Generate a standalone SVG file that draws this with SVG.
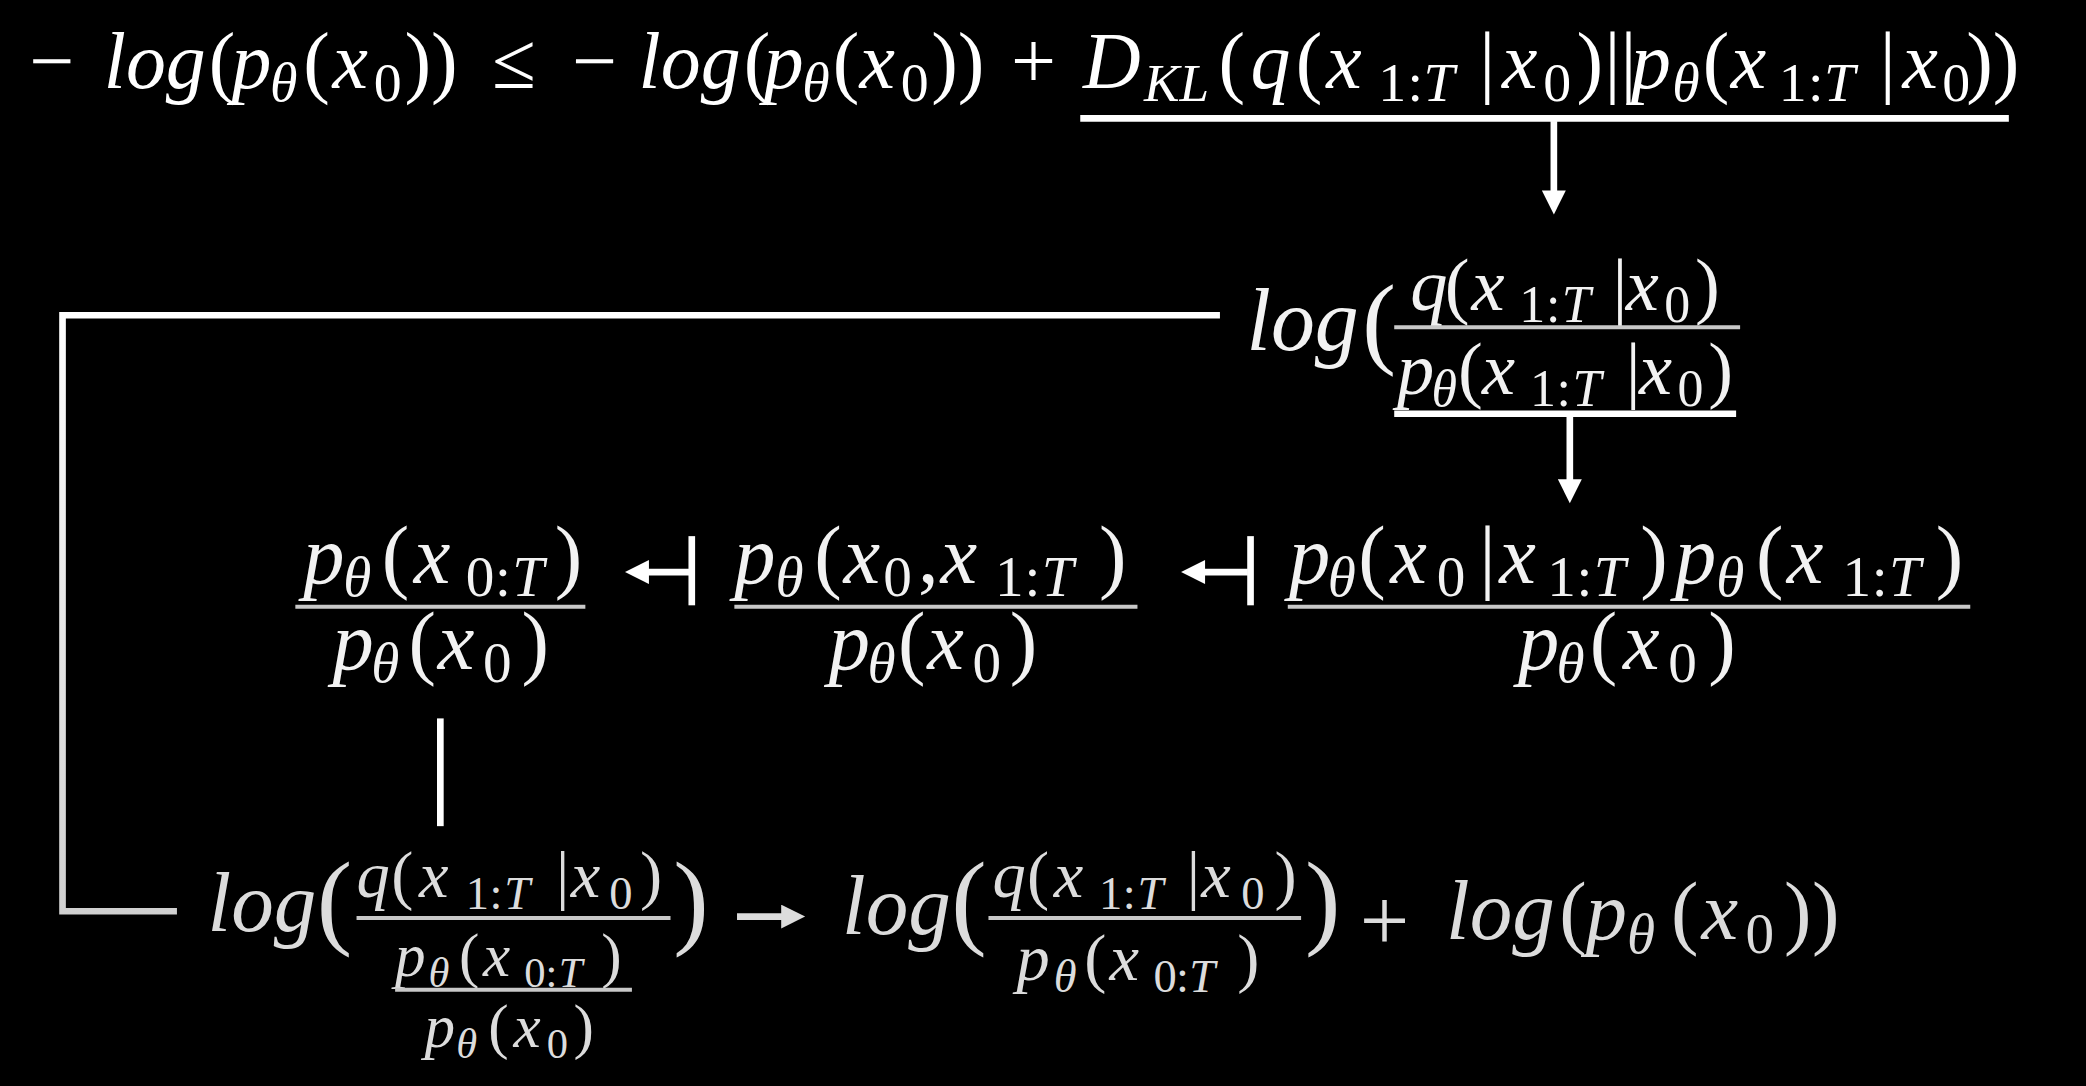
<svg xmlns="http://www.w3.org/2000/svg" width="2086" height="1086" viewBox="0 0 2086 1086">
<style>
text{font-family:'Liberation Serif','DejaVu Serif',serif;font-style:italic}
.u{font-style:normal}
.w{fill:#ffffff}
.l{fill:#f2f2f2}
.g{fill:#dcdcdc}
.bar{stroke:#c8c8c8;stroke-width:3}
.c{stroke:#ffffff;stroke-width:5;fill:none}
.cg{stroke:#dcdcdc;stroke-width:5;fill:none}
</style>
<defs>
<marker id="ah" viewBox="0 0 10 10" refX="1" refY="5" markerUnits="userSpaceOnUse" markerWidth="22" markerHeight="18" orient="auto"><path d="M0,0 L10,5 L0,10 z" fill="#ffffff"/></marker>
<marker id="ahg" viewBox="0 0 10 10" refX="1" refY="5" markerUnits="userSpaceOnUse" markerWidth="22" markerHeight="18" orient="auto"><path d="M0,0 L10,5 L0,10 z" fill="#dcdcdc"/></marker>
<linearGradient id="fade" gradientUnits="userSpaceOnUse" x1="0" y1="237" x2="0" y2="685"><stop offset="0" stop-color="#ffffff"/><stop offset="1" stop-color="#d0d0d0"/></linearGradient>
</defs>
<rect x="0" y="0" width="2086" height="1086" fill="#000000"/>
<g transform="scale(1.33036)">
<g id="connectors">
<line class="c" x1="812" y1="89" x2="1510" y2="89"/>
<line class="c" x1="1168" y1="91" x2="1168" y2="145" marker-end="url(#ah)"/>
<line class="c" x1="1048" y1="311" x2="1305" y2="311"/>
<line class="c" x1="1180" y1="313" x2="1180" y2="362" marker-end="url(#ah)"/>
<path d="M917,237 H47 V685 H133" fill="none" stroke="url(#fade)" stroke-width="5"/>
<line class="c" x1="520" y1="403" x2="520" y2="455"/>
<line class="c" x1="518" y1="430" x2="486" y2="430" marker-end="url(#ah)"/>
<line class="c" x1="940" y1="403" x2="940" y2="455"/>
<line class="c" x1="938" y1="430" x2="904" y2="430" marker-end="url(#ah)"/>
<line class="c" x1="331" y1="540" x2="331" y2="621"/>
<line class="cg" x1="554" y1="689" x2="589" y2="689" marker-end="url(#ahg)"/>
</g>
<g id="n-bound">
<text class="w" font-size="60"><tspan class="u" x="22" y="66">−</tspan><tspan x="78" y="66">log</tspan><tspan class="u" x="157" y="66">(</tspan><tspan x="174" y="66">p</tspan><tspan x="203" y="76" font-size="42">θ</tspan><tspan class="u" x="228" y="66">(</tspan><tspan x="250" y="66">x</tspan><tspan class="u" x="281" y="76" font-size="42">0</tspan><tspan class="u" x="304" y="66">))</tspan><tspan class="u" x="370" y="66">≤</tspan><tspan class="u" x="430" y="66">−</tspan><tspan x="480" y="66">log</tspan><tspan class="u" x="559" y="66">(</tspan><tspan x="574" y="66">p</tspan><tspan x="603" y="76" font-size="42">θ</tspan><tspan class="u" x="626" y="66">(</tspan><tspan x="646" y="66">x</tspan><tspan class="u" x="677" y="76" font-size="42">0</tspan><tspan class="u" x="700" y="66">))</tspan><tspan class="u" x="760" y="66">+</tspan><tspan x="814" y="66">D</tspan><tspan x="860" y="76" font-size="40">KL</tspan><tspan class="u" x="916" y="66">(</tspan><tspan x="940" y="66">q</tspan><tspan class="u" x="974" y="66">(</tspan><tspan x="997" y="66">x</tspan><tspan class="u" x="1036" y="76" font-size="42">1</tspan><tspan class="u" x="1058" y="76" font-size="42">:</tspan><tspan x="1070" y="76" font-size="42">T</tspan><tspan class="u" x="1112" y="66">|</tspan><tspan x="1129" y="66">x</tspan><tspan class="u" x="1160" y="76" font-size="42">0</tspan><tspan class="u" x="1185" y="66">)</tspan><tspan class="u" x="1206" y="66">||</tspan><tspan x="1226" y="66">p</tspan><tspan x="1257" y="76" font-size="42">θ</tspan><tspan class="u" x="1280" y="66">(</tspan><tspan x="1301" y="66">x</tspan><tspan class="u" x="1337" y="76" font-size="42">1</tspan><tspan class="u" x="1359" y="76" font-size="42">:</tspan><tspan x="1371" y="76" font-size="42">T</tspan><tspan class="u" x="1413" y="66">|</tspan><tspan x="1430" y="66">x</tspan><tspan class="u" x="1460" y="76" font-size="42">0</tspan><tspan class="u" x="1478" y="66">))</tspan></text>
</g>
<g id="n-log-ratio">
<text class="l" font-size="56"><tspan x="937" y="263" font-size="66">log</tspan><tspan class="u" x="1024" y="267" font-size="76">(</tspan><tspan x="1060" y="233">q</tspan><tspan class="u" x="1086" y="233">(</tspan><tspan x="1106" y="233">x</tspan><tspan class="u" x="1142" y="242" font-size="39">1</tspan><tspan class="u" x="1162" y="242" font-size="39">:</tspan><tspan x="1174" y="242" font-size="39">T</tspan><tspan class="u" x="1212" y="233">|</tspan><tspan x="1222" y="233">x</tspan><tspan class="u" x="1251" y="242" font-size="39">0</tspan><tspan class="u" x="1274" y="233">)</tspan><tspan x="1050" y="296">p</tspan><tspan x="1076" y="305" font-size="39">θ</tspan><tspan class="u" x="1096" y="296">(</tspan><tspan x="1114" y="296">x</tspan><tspan class="u" x="1150" y="305" font-size="39">1</tspan><tspan class="u" x="1170" y="305" font-size="39">:</tspan><tspan x="1182" y="305" font-size="39">T</tspan><tspan class="u" x="1222" y="296">|</tspan><tspan x="1232" y="296">x</tspan><tspan class="u" x="1261" y="305" font-size="39">0</tspan><tspan class="u" x="1284" y="296">)</tspan></text>
<line class="bar" x1="1048" y1="246" x2="1308" y2="246"/>
</g>
<g id="n-frac-a">
<text class="l" font-size="62"><tspan x="228" y="438">p</tspan><tspan x="258" y="448" font-size="43">θ</tspan><tspan class="u" x="287" y="438">(</tspan><tspan x="311" y="438">x</tspan><tspan class="u" x="350" y="448" font-size="43">0</tspan><tspan class="u" x="372" y="448" font-size="43">:</tspan><tspan x="385" y="448" font-size="43">T</tspan><tspan class="u" x="417" y="438">)</tspan><tspan x="250" y="503">p</tspan><tspan x="279" y="513" font-size="43">θ</tspan><tspan class="u" x="307" y="503">(</tspan><tspan x="329" y="503">x</tspan><tspan class="u" x="363" y="513" font-size="43">0</tspan><tspan class="u" x="392" y="503">)</tspan></text>
<line class="bar" x1="222" y1="456" x2="440" y2="456"/>
</g>
<g id="n-frac-b">
<text class="l" font-size="62"><tspan x="552" y="438">p</tspan><tspan x="583" y="448" font-size="43">θ</tspan><tspan class="u" x="612" y="438">(</tspan><tspan x="634" y="438">x</tspan><tspan class="u" x="664" y="448" font-size="43">0</tspan><tspan class="u" x="690" y="438">,</tspan><tspan x="707" y="438">x</tspan><tspan class="u" x="748" y="448" font-size="43">1</tspan><tspan class="u" x="770" y="448" font-size="43">:</tspan><tspan x="783" y="448" font-size="43">T</tspan><tspan class="u" x="826" y="438">)</tspan><tspan x="623" y="503">p</tspan><tspan x="652" y="513" font-size="43">θ</tspan><tspan class="u" x="675" y="503">(</tspan><tspan x="697" y="503">x</tspan><tspan class="u" x="731" y="513" font-size="43">0</tspan><tspan class="u" x="759" y="503">)</tspan></text>
<line class="bar" x1="552" y1="456" x2="855" y2="456"/>
</g>
<g id="n-frac-c">
<text class="l" font-size="62"><tspan x="969" y="438">p</tspan><tspan x="998" y="448" font-size="43">θ</tspan><tspan class="u" x="1021" y="438">(</tspan><tspan x="1045" y="438">x</tspan><tspan class="u" x="1080" y="448" font-size="43">0</tspan><tspan class="u" x="1112" y="438">|</tspan><tspan x="1127" y="438">x</tspan><tspan class="u" x="1163" y="448" font-size="43">1</tspan><tspan class="u" x="1185" y="448" font-size="43">:</tspan><tspan x="1198" y="448" font-size="43">T</tspan><tspan class="u" x="1233" y="438">)</tspan><tspan x="1259" y="438">p</tspan><tspan x="1290" y="448" font-size="43">θ</tspan><tspan class="u" x="1320" y="438">(</tspan><tspan x="1343" y="438">x</tspan><tspan class="u" x="1385" y="448" font-size="43">1</tspan><tspan class="u" x="1407" y="448" font-size="43">:</tspan><tspan x="1420" y="448" font-size="43">T</tspan><tspan class="u" x="1455" y="438">)</tspan><tspan x="1141" y="503">p</tspan><tspan x="1170" y="513" font-size="43">θ</tspan><tspan class="u" x="1195" y="503">(</tspan><tspan x="1220" y="503">x</tspan><tspan class="u" x="1254" y="513" font-size="43">0</tspan><tspan class="u" x="1284" y="503">)</tspan></text>
<line class="bar" x1="968" y1="456" x2="1481" y2="456"/>
</g>
<g id="n-log-nested">
<text class="g" font-size="50"><tspan x="156" y="700" font-size="64">log</tspan><tspan class="u" x="238" y="703" font-size="80">(</tspan><tspan x="268" y="674">q</tspan><tspan class="u" x="294" y="674">(</tspan><tspan x="315" y="674">x</tspan><tspan class="u" x="350" y="683" font-size="35">1</tspan><tspan class="u" x="368" y="683" font-size="35">:</tspan><tspan x="379" y="683" font-size="35">T</tspan><tspan class="u" x="418" y="674">|</tspan><tspan x="429" y="674">x</tspan><tspan class="u" x="458" y="683" font-size="35">0</tspan><tspan class="u" x="481" y="674">)</tspan><tspan x="297" y="734" font-size="46">p</tspan><tspan x="322" y="742" font-size="32">θ</tspan><tspan class="u" x="345" y="734" font-size="46">(</tspan><tspan x="363" y="734" font-size="46">x</tspan><tspan class="u" x="394" y="742" font-size="32">0</tspan><tspan class="u" x="410" y="742" font-size="32">:</tspan><tspan x="420" y="742" font-size="32">T</tspan><tspan class="u" x="452" y="734" font-size="46">)</tspan><tspan x="319" y="787" font-size="46">p</tspan><tspan x="343" y="795" font-size="32">θ</tspan><tspan class="u" x="367" y="787" font-size="46">(</tspan><tspan x="386" y="787" font-size="46">x</tspan><tspan class="u" x="411" y="795" font-size="32">0</tspan><tspan class="u" x="431" y="787" font-size="46">)</tspan><tspan class="u" x="506" y="703" font-size="80">)</tspan></text>
<line class="bar" x1="268" y1="690" x2="504" y2="690"/>
<line class="bar" x1="297" y1="744" x2="475" y2="744"/>
</g>
<g id="n-log-split">
<text class="g" font-size="50"><tspan x="633" y="702" font-size="64">log</tspan><tspan class="u" x="715" y="703" font-size="80">(</tspan><tspan x="746" y="674">q</tspan><tspan class="u" x="772" y="674">(</tspan><tspan x="792" y="674">x</tspan><tspan class="u" x="826" y="683" font-size="35">1</tspan><tspan class="u" x="844" y="683" font-size="35">:</tspan><tspan x="855" y="683" font-size="35">T</tspan><tspan class="u" x="892" y="674">|</tspan><tspan x="903" y="674">x</tspan><tspan class="u" x="933" y="683" font-size="35">0</tspan><tspan class="u" x="958" y="674">)</tspan><tspan x="764" y="737">p</tspan><tspan x="792" y="746" font-size="35">θ</tspan><tspan class="u" x="815" y="737">(</tspan><tspan x="834" y="737">x</tspan><tspan class="u" x="867" y="746" font-size="35">0</tspan><tspan class="u" x="884" y="746" font-size="35">:</tspan><tspan x="894" y="746" font-size="35">T</tspan><tspan class="u" x="930" y="737">)</tspan><tspan class="u" x="981" y="703" font-size="80">)</tspan><tspan class="u" x="1022" y="714" font-size="66">+</tspan><tspan x="1087" y="706" font-size="64">log</tspan><tspan class="u" x="1172" y="706" font-size="62">(</tspan><tspan x="1192" y="706" font-size="62">p</tspan><tspan x="1223" y="716" font-size="43">θ</tspan><tspan class="u" x="1256" y="706" font-size="62">(</tspan><tspan x="1279" y="706" font-size="62">x</tspan><tspan class="u" x="1312" y="716" font-size="43">0</tspan><tspan class="u" x="1341" y="706" font-size="62">)</tspan><tspan class="u" x="1362" y="706" font-size="62">)</tspan></text>
<line class="bar" x1="743" y1="690" x2="978" y2="690"/>
</g>
</g>
</svg>
